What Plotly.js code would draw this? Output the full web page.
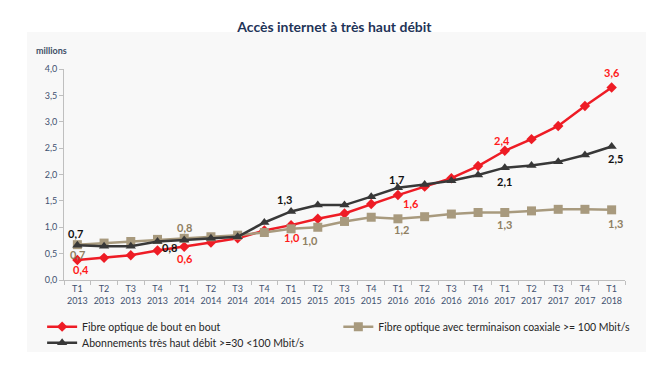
<!DOCTYPE html>
<html>
<head>
<meta charset="utf-8">
<script src="https://cdn.plot.ly/plotly-3.0.1.min.js"></script>
<style>html,body{margin:0;padding:0;background:#fff;}#chart{width:660px;height:380px;}</style>
</head>
<body>
<div id="chart"></div>
<script>
var quarters = ["T1","T2","T3","T4","T1","T2","T3","T4","T1","T2","T3","T4","T1","T2","T3","T4","T1","T2","T3","T4","T1"];
var years = ["2013","2013","2013","2013","2014","2014","2014","2014","2015","2015","2015","2015","2016","2016","2016","2016","2017","2017","2017","2017","2018"];
var categories = quarters.map(function(q,i){ return q + "<br>" + years[i]; });

var fibreBoutEnBout = [0.38,0.42,0.47,0.56,0.63,0.71,0.79,0.94,1.04,1.16,1.26,1.44,1.61,1.77,1.93,2.16,2.45,2.67,2.92,3.30,3.65];
var fibreCoaxiale = [0.67,0.70,0.73,0.77,0.79,0.82,0.85,0.90,0.97,1.00,1.11,1.19,1.16,1.20,1.25,1.28,1.28,1.31,1.34,1.34,1.33];
var abonnementsTHD = [0.66,0.64,0.64,0.73,0.76,0.79,0.82,1.09,1.30,1.42,1.42,1.58,1.75,1.81,1.88,1.99,2.13,2.17,2.24,2.37,2.53];

var seriesNames = ["Fibre optique de bout en bout", "Fibre optique avec terminaison coaxiale >= 100 Mbit/s", "Abonnements très haut débit >=30 <100 Mbit/s"];
var labelIndexes = [0,4,8,12,16,20];
var labelsRed = ["0,4","0,6","1,0","1,6","2,4","3,6"];
var labelsBeige = ["0,7","0,8","1,0","1,2","1,3","1,3"];
var labelsBlack = ["0,7","0,8","1,3","1,7","2,1","2,5"];

var redC = "#EE1C25", beigeC = "#A89A7E", blackC = "#383838";
var font = "Lato, 'Open Sans', sans-serif";

var traces = [
  {x: categories, y: fibreBoutEnBout, name: seriesNames[0], type: "scatter", mode: "lines+markers", legend: "legend",
   line: {color: redC, width: 2.5}, marker: {symbol: "diamond", size: 8, color: redC}},
  {x: categories, y: fibreCoaxiale, name: seriesNames[1], type: "scatter", mode: "lines+markers", legend: "legend2",
   line: {color: beigeC, width: 2.5}, marker: {symbol: "square", size: 9, color: beigeC}},
  {x: categories, y: abonnementsTHD, name: seriesNames[2], type: "scatter", mode: "lines+markers", legend: "legend3",
   line: {color: blackC, width: 2.5}, marker: {symbol: "triangle-up", size: 9, color: blackC}}
];

var shiftsRed = [[4,-10],[1,-12],[1,-12],[13,-8],[-3,10],[0,15]];
var shiftsBeige = [[0,-10],[0,11],[19,-12],[4,-11],[0,-12],[4,-14]];
var shiftsBlack = [[-2,12],[-15,-8],[-7,12],[-1,8],[0,-14],[4,-12]];

var annotations = [];
function addLabels(data, labels, shifts, color){
  labelIndexes.forEach(function(idx, k){
    annotations.push({x: categories[idx], y: data[idx], xref: "x", yref: "y", text: labels[k],
      showarrow: false, xshift: shifts[k][0], yshift: shifts[k][1],
      font: {family: font, size: 11, color: color, weight: "bold"}});
  });
}
addLabels(fibreBoutEnBout, labelsRed, shiftsRed, "#FF1A1A");
addLabels(fibreCoaxiale, labelsBeige, shiftsBeige, "#8F7F62");
addLabels(abonnementsTHD, labelsBlack, shiftsBlack, "#111111");
annotations.push({xref: "paper", yref: "paper", x: -0.022, y: 1.09, xanchor: "center", yanchor: "middle", text: "millions", showarrow: false,
  font: {family: font, size: 9, color: "#3F4F66", weight: "bold"}});

var legendFont = {family: font, size: 10.5, color: "#262626"};
function legendAt(xp, yp){
  return {orientation: "v", x: xp, y: yp, xanchor: "left", yanchor: "middle",
    bgcolor: "rgba(0,0,0,0)", borderwidth: 0, font: legendFont};
}

var layout = {
  width: 660, height: 380,
  margin: {l: 64, r: 35, t: 69, b: 100},
  paper_bgcolor: "#ffffff", plot_bgcolor: "rgba(0,0,0,0)",
  separators: ", ",
  title: {text: "Accès internet à très haut débit", x: 0.482, xref: "paper", xanchor: "center", y: 0.929, yanchor: "middle",
    font: {family: font, size: 14, color: "#1F3458", weight: "bold"}},
  showlegend: true,
  legend: legendAt(-0.039, -0.221),
  legend2: legendAt(0.489, -0.221),
  legend3: legendAt(-0.039, -0.297),
  xaxis: {type: "category", showgrid: false, zeroline: false, showline: true, linecolor: "#BFBFBF", linewidth: 1,
    ticks: "outside", tickson: "boundaries", ticklen: 4, tickcolor: "#BFBFBF", tickangle: 0,
    tickfont: {family: font, size: 9, color: "#3F5270"}, range: [-0.5, 20.5], fixedrange: true},
  yaxis: {range: [0, 4], dtick: 0.5, tickformat: ".1f", showgrid: false, zeroline: false,
    showline: true, linecolor: "#BFBFBF", linewidth: 1, ticks: "outside", ticklen: 4, tickcolor: "#BFBFBF",
    tickfont: {family: font, size: 9, color: "#3F5270"}, fixedrange: true},
  shapes: [{type: "rect", xref: "paper", yref: "paper", x0: -0.066, x1: 1.0375, y0: -0.341, y1: 1.175,
    fillcolor: "#F8F8F8", line: {width: 0}, layer: "below"}],
  annotations: annotations
};

Plotly.newPlot("chart", traces, layout, {displayModeBar: false, staticPlot: true});
</script>
</body>
</html>
